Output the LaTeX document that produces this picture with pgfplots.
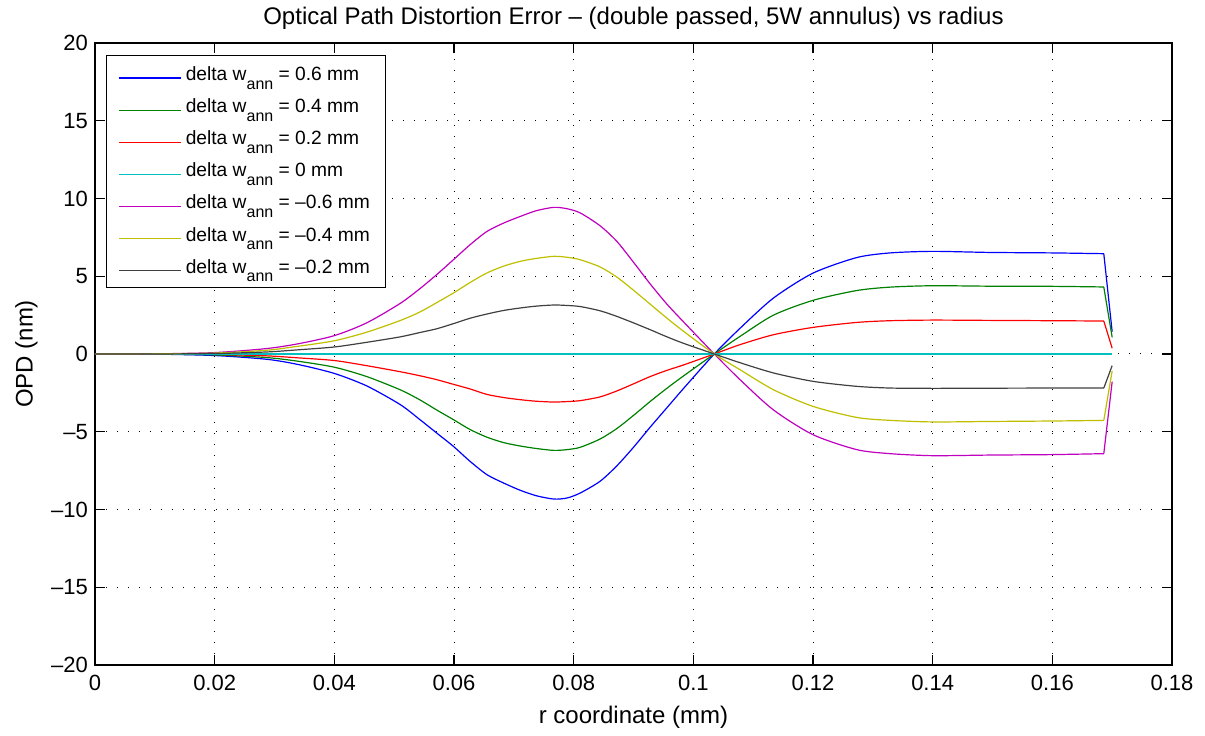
\documentclass[border=0pt]{standalone}
\usepackage{pgfplots}
\usepackage{pgfplotstable}
\pgfplotsset{compat=1.18}
\usepackage{fontspec}
\setmainfont{Liberation Sans}
\definecolor{mblue}{rgb}{0,0,1}
\definecolor{mgreen}{rgb}{0,0.5,0}
\definecolor{mred}{rgb}{1,0,0}
\definecolor{mcyan}{rgb}{0,0.75,0.75}
\definecolor{mmag}{rgb}{0.75,0,0.75}
\definecolor{myel}{rgb}{0.75,0.75,0}
\definecolor{mgray}{rgb}{0.25,0.25,0.25}

\pgfplotstableread{
x       b      g      r      c    m      y      k
0.0000  0.00   0.00   0.00   0    0.00   0.00   0.00
0.0100 -0.01  -0.01   0.00   0    0.01   0.01   0.00
0.0200 -0.10  -0.06  -0.03   0    0.09   0.06   0.03
0.0287 -0.34  -0.23  -0.12   0    0.35   0.24   0.13
0.0340 -0.68  -0.47  -0.25   0    0.66   0.50   0.27
0.0400 -1.25  -0.85  -0.42   0    1.18   0.85   0.45
0.0454 -2.05  -1.45  -0.75   0    2.00   1.40   0.75
0.0510 -3.25  -2.30  -1.14   0    3.25   2.15   1.10
0.0543 -4.22  -2.95  -1.40   0    4.20   2.70   1.38
0.0571 -5.08  -3.60  -1.65   0    5.10   3.30   1.62
0.0599 -5.94  -4.22  -1.95   0    6.06   3.92   1.95
0.0627 -6.91  -4.86  -2.25   0    7.03   4.60   2.30
0.0655 -7.76  -5.35  -2.60   0    7.88   5.21   2.57
0.0683 -8.30  -5.70  -2.80   0    8.42   5.65   2.80
0.0711 -8.77  -5.92  -2.94   0    8.85   5.96   2.96
0.0738 -9.12  -6.08  -3.04   0    9.22   6.15   3.08
0.0767 -9.33  -6.20  -3.09   0    9.43   6.28   3.15
0.0789 -9.26  -6.15  -3.06   0    9.34   6.22   3.12
0.0811 -8.94  -6.00  -3.00   0    9.07   6.06   3.05
0.0844 -8.19  -5.47  -2.76   0    8.25   5.60   2.78
0.0872 -7.20  -4.80  -2.38   0    7.25   4.95   2.42
0.0900 -6.00  -3.95  -1.92   0    5.90   4.10   2.00
0.0928 -4.70  -3.05  -1.45   0    4.50   3.20   1.56
0.0956 -3.45  -2.20  -1.05   0    3.20   2.30   1.10
0.0984 -2.20  -1.40  -0.70   0    2.05   1.45   0.68
0.1035  0.00   0.00   0.00   0    0.00   0.00   0.00
0.1078  1.65   1.13   0.60   0   -1.65  -1.01  -0.56
0.1134  3.60   2.50   1.24   0   -3.60  -2.30  -1.22
0.1200  5.20   3.45   1.71   0   -5.19  -3.37  -1.76
0.1273  6.20   4.08   2.03   0   -6.15  -4.08  -2.08
0.1329  6.50   4.30   2.14   0   -6.41  -4.27  -2.19
0.1400  6.60   4.39   2.18   0   -6.54  -4.37  -2.21
0.1496  6.53   4.36   2.16   0   -6.50  -4.34  -2.20
0.1600  6.50   4.35   2.14   0   -6.47  -4.31  -2.19
0.1686  6.45   4.31   2.12   0   -6.41  -4.27  -2.19
0.1700  1.43   1.07   0.37   0   -1.78  -1.09  -0.75
}\data

\newcommand{\wann}{w\raisebox{-4.3pt}{\fontsize{8}{8}\selectfont ann}}
% smooth body up to the kink, straight last segment
\newcommand{\curve}[2]{%
  \addplot[color=#1, smooth, tension=0.45, restrict x to domain=0:0.1687] table[x=x,y=#2]{\data};
  \addplot[color=#1, forget plot, restrict x to domain=0.168:0.171] table[x=x,y=#2]{\data};
}

\begin{document}
\begin{tikzpicture}
\begin{axis}[
  scale only axis, width=538.5pt, height=311pt,
  xmin=0, xmax=0.18, ymin=-20, ymax=20,
  xtick={0,0.02,0.04,0.06,0.08,0.1,0.12,0.14,0.16,0.18},
  xticklabels={0,0.02,0.04,0.06,0.08,0.1,0.12,0.14,0.16,0.18},
  scaled x ticks=false,
  ytick={-20,-15,-10,-5,0,5,10,15,20},
  yticklabels={–20,–15,–10,–5,0,5,10,15,20},
  tick align=inside, tick pos=both, ticklabel pos=left,
  major tick length=5pt,
  grid=major,
  major grid style={black, line width=0.5pt, dash pattern=on 0.6pt off 4.9pt},
  axis line style={line width=0.8pt},
  tick style={black, line width=0.6pt},
  tick label style={font=\fontsize{11}{13}\selectfont},
  xticklabel style={yshift=-1.5pt},
  title={Optical Path Distortion Error – (double passed, 5W annulus) vs radius},
  title style={font=\fontsize{12}{14}\selectfont, yshift=-3pt},
  xlabel={r coordinate (mm)},
  ylabel={OPD (nm)},
  label style={font=\fontsize{12}{14}\selectfont},
  xlabel style={yshift=-1pt},
  legend style={at={(0.0102,0.9807)}, anchor=north west,
    font=\fontsize{9.6}{11}\selectfont, draw=black, line width=0.6pt,
    row sep=3.6pt, inner xsep=6pt, inner ysep=3.5pt},
  legend cell align=left,
  legend image code/.code={\draw[#1, line width=0.6pt] (0pt,-1.5pt) -- (31pt,-1.5pt);},
  every axis plot/.append style={line width=0.6pt},
]
\curve{mblue}{b}
\addlegendentry{delta \wann{} = 0.6 mm}
\curve{mgreen}{g}
\addlegendentry{delta \wann{} = 0.4 mm}
\curve{mred}{r}
\addlegendentry{delta \wann{} = 0.2 mm}
\curve{mcyan}{c}
\addlegendentry{delta \wann{} = 0 mm}
\curve{mmag}{m}
\addlegendentry{delta \wann{} = –0.6 mm}
\curve{myel}{y}
\addlegendentry{delta \wann{} = –0.4 mm}
\curve{mgray}{k}
\addlegendentry{delta \wann{} = –0.2 mm}
\end{axis}
\path ([xshift=-47.5pt,yshift=-35pt]current axis.south west) rectangle ([xshift=16.5pt,yshift=21.5pt]current axis.north east);
\end{tikzpicture}
\end{document}
